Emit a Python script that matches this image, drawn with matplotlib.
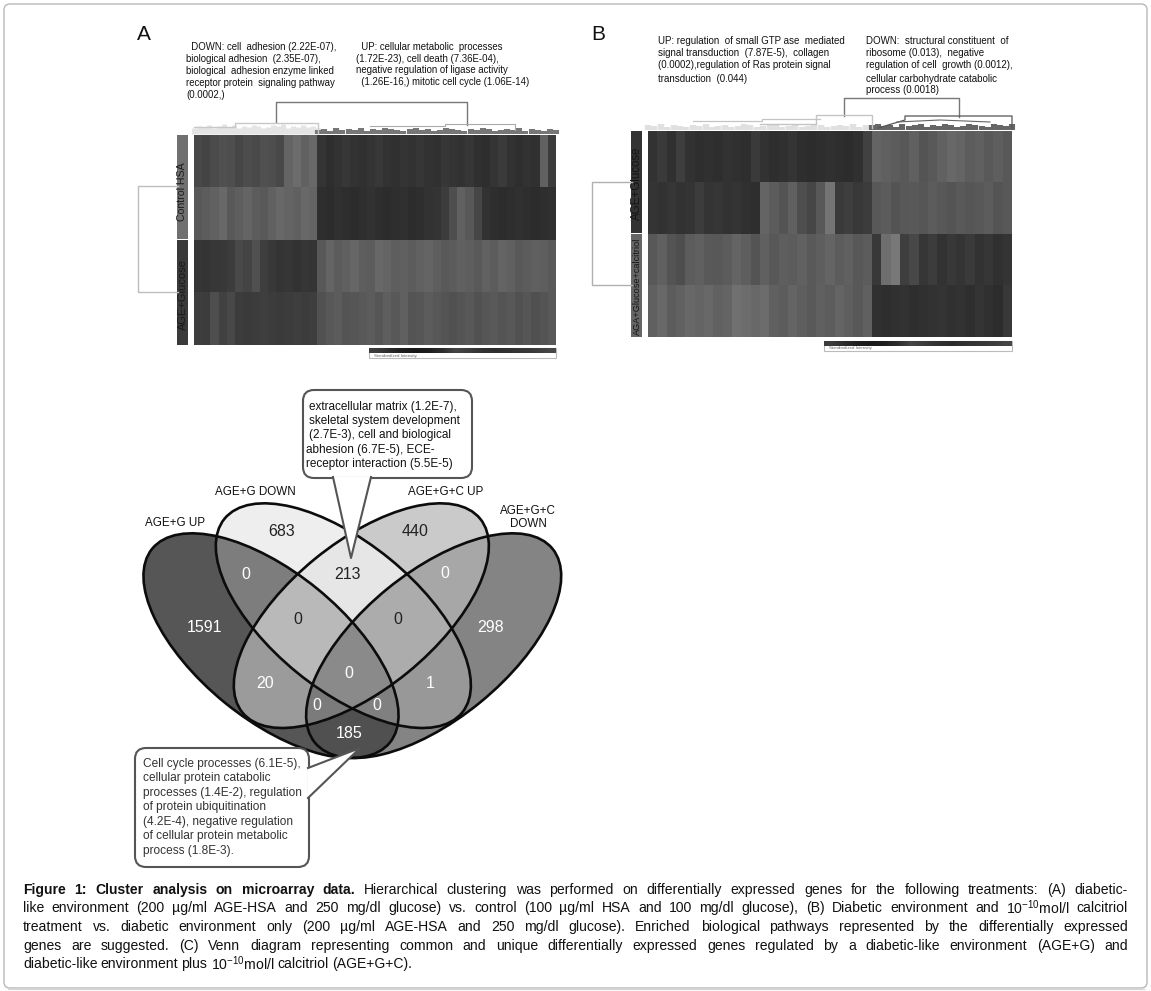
import numpy as np
import matplotlib
matplotlib.use('Agg')
import matplotlib.pyplot as plt
from matplotlib.patches import Ellipse, FancyBboxPatch, Polygon

plt.rcParams['font.family'] = ['Liberation Sans', 'DejaVu Sans']
plt.rcParams['mathtext.fontset'] = 'custom'
plt.rcParams['mathtext.rm'] = 'Liberation Sans'
plt.rcParams['mathtext.default'] = 'regular'

# heatmap A, grey level per column and row
a_row1 = [72, 68, 75, 80, 78, 70, 76, 74, 80, 78, 72, 100, 108, 98, 104,
          52, 46, 50, 55, 50, 48, 52, 56, 50, 48, 52, 50, 54, 50, 48, 55, 52, 50, 54, 48, 46, 52, 58, 50, 46, 50, 48, 98, 60]
a_row2 = [88, 92, 98, 104, 90, 94, 100, 92, 90, 98, 104, 100, 96, 104, 100,
          46, 44, 48, 46, 45, 47, 50, 46, 44, 46, 48, 45, 46, 50, 52, 60, 78, 98, 88, 70, 50, 46, 44, 46, 48, 46, 44, 46, 48]
a_row3 = [54, 52, 55, 56, 60, 74, 68, 80, 62, 56, 52, 54, 50, 54, 52,
          88, 100, 92, 96, 102, 94, 92, 104, 100, 94, 96, 92, 98, 100, 94, 90, 92, 96, 94, 90, 98, 92, 100, 96, 90, 92, 96, 94, 90]
a_row4 = [62, 60, 78, 66, 72, 60, 58, 60, 62, 60, 58, 60, 62, 60, 62,
          82, 88, 92, 84, 86, 90, 92, 86, 94, 88, 96, 84, 86, 92, 88, 84, 80, 84, 88, 82, 86, 90, 84, 88, 82, 86, 80, 84, 88]

# heatmap B
b_row1 = [50, 58, 48, 62, 50, 46, 48, 46, 50, 48, 46, 58, 50, 46, 48, 52, 46, 44, 46, 48, 46, 44, 48, 66,
          100, 96, 92, 88, 96, 84, 90, 98, 104, 100, 92, 96, 90, 94, 88]
b_row2 = [52, 50, 54, 50, 52, 60, 52, 54, 50, 52, 48, 46, 100, 92, 84, 96, 78, 70, 88, 116, 58, 62, 56, 60,
          88, 92, 84, 88, 90, 86, 92, 88, 84, 90, 86, 88, 92, 84, 88]
b_row3 = [88, 96, 84, 78, 92, 96, 90, 88, 92, 100, 94, 84, 96, 88, 94, 92, 98, 90, 94, 100, 92, 96, 88, 92,
          56, 110, 120, 62, 72, 54, 60, 50, 56, 52, 58, 50, 54, 48, 52]
b_row4 = [96, 104, 92, 98, 104, 100, 104, 98, 100, 112, 108, 104, 108, 96, 92, 100, 94, 90, 96, 92, 100, 94, 88, 96,
          48, 46, 48, 50, 46, 48, 50, 52, 48, 50, 46, 52, 48, 44, 56]

# dendrogram fringe heights
fringe_a_left = [6, 8, 7, 9, 6, 8, 10, 7, 9, 6, 8, 7, 9, 8, 6, 7, 9, 8, 10, 6, 8, 7, 9, 7, 8, 6]
fringe_a_right = [4, 5, 3, 6, 4, 5, 4, 6, 3, 5, 4, 6, 5, 4, 3, 5, 6, 4, 5, 3, 4, 6, 5, 4, 3, 5, 4, 6, 5, 3, 4, 5, 4, 6, 3, 5, 4, 3, 5, 4]
fringe_b_left = [5, 4, 6, 3, 5, 4, 3, 5, 4, 6, 3, 4, 5, 3, 4, 6, 5, 3, 4, 5, 6, 3, 4, 5, 3, 4, 6, 5, 3, 4, 5, 4, 6, 3, 5, 4]
fringe_b_right = [5, 6, 4, 5, 3, 6, 4, 5, 6, 3, 5, 4, 6, 5, 3, 4, 6, 5, 4, 3, 6, 5, 4, 6]

# venn
set_labels = ['AGE+G UP', 'AGE+G DOWN', 'AGE+G+C UP', 'AGE+G+C\nDOWN']
region_members = [(1,), (2,), (3,), (4,), (1, 2), (2, 3), (3, 4), (1, 3), (2, 4), (1, 4),
                  (1, 2, 3), (2, 3, 4), (1, 3, 4), (1, 2, 4), (1, 2, 3, 4)]
region_counts = ['1591', '683', '440', '298', '0', '213', '0', '20', '1', '185', '0', '0', '0', '0', '0']
region_greys = [86, 238, 202, 133, 125, 230, 168, 156, 152, 80, 186, 172, 124, 128, 138]
region_xy = [(254, 727), (484, 438), (884, 438), (1113, 727), (378, 568), (683, 568), (975, 565),
             (436, 897), (930, 895), (687, 1047), (534, 705), (832, 705), (590, 963), (770, 963), (687, 865)]

callout_top = ['extracellular matrix (1.2E-7),', 'skeletal system development', '(2.7E-3), cell and biological',
               'abhesion (6.7E-5), ECE-', 'receptor interaction (5.5E-5)']
callout_bottom = ['Cell cycle processes (6.1E-5),', 'cellular protein catabolic', 'processes (1.4E-2), regulation',
                  'of protein ubiquitination', '(4.2E-4), negative regulation', 'of cellular protein metabolic',
                  'process (1.8E-3).']

a_down = ['  DOWN: cell  adhesion (2.22E-07),', 'biological adhesion  (2.35E-07),', 'biological  adhesion enzyme linked',
          'receptor protein  signaling pathway', '(0.0002,)']
a_up = ['  UP: cellular metabolic  processes', '(1.72E-23), cell death (7.36E-04),',
        'negative regulation of ligase activity', '  (1.26E-16,) mitotic cell cycle (1.06E-14)']
b_up = ['UP: regulation  of small GTP ase  mediated', 'signal transduction  (7.87E-5),  collagen',
        '(0.0002),regulation of Ras protein signal', 'transduction  (0.044)']
b_down = ['DOWN:  structural constituent  of', 'ribosome (0.013),  negative', 'regulation of cell  growth (0.0012),',
          'cellular carbohydrate catabolic', 'process (0.0018)']

caption = [
    'Figure 1: Cluster analysis on microarray data. Hierarchical clustering was performed on differentially expressed genes for the following treatments: (A) diabetic-',
    'like environment (200 µg/ml AGE-HSA and 250 mg/dl glucose) vs. control (100 µg/ml HSA and 100 mg/dl glucose), (B) Diabetic environment and 10$^{-10}$mol/l calcitriol',
    'treatment vs. diabetic environment only (200 µg/ml AGE-HSA and 250 mg/dl glucose). Enriched biological pathways represented by the differentially expressed',
    'genes are suggested. (C) Venn diagram representing common and unique differentially expressed genes regulated by a diabetic-like environment (AGE+G) and',
    'diabetic-like environment plus 10$^{-10}$mol/l calcitriol (AGE+G+C).',
]
n_bold = 7


fig = plt.figure(figsize=(11.51, 9.91), dpi=100)
ax = fig.add_axes([0, 0, 1, 1])
ax.set_xlim(0, 1151)
ax.set_ylim(991, 0)
ax.axis('off')

# page frame
ax.add_patch(FancyBboxPatch((4, 4), 1143, 984, boxstyle='round,pad=0,rounding_size=6',
                            fc='white', ec='#b8b8b8', lw=1.0, zorder=0))
ax.plot([8, 1144], [989, 989], color='#d8d8d8', lw=1.0, zorder=0)


def lines_of_text(x, y, lines, size, step, color='#111111'):
    for i, s in enumerate(lines):
        ax.text(x, y + i * step, s, fontsize=size, color=color, va='center', ha='left')


def heatmap(rows, x0, x1, y0, y1):
    ax.imshow(np.array(rows), cmap='gray', vmin=0, vmax=255, extent=(x0, x1, y1, y0),
              aspect='auto', interpolation='nearest', zorder=2)


def fringe(heights, x0, x1, base, color):
    xs = np.linspace(x0, x1, len(heights))
    step = xs[1] - xs[0]
    ax.vlines(xs, [base - h for h in heights], base, color=color, lw=step * 0.72, zorder=2)


def scale_bar(x0, x1, y0):
    ax.add_patch(plt.Rectangle((x0, y0), x1 - x0, 10, fc='white', ec='#bbbbbb', lw=0.8, zorder=2))
    grad = np.array([[60, 45, 30, 25, 30, 45, 70, 60, 50, 45, 50, 55, 60, 70]])
    ax.imshow(grad, cmap='gray', vmin=0, vmax=255, extent=(x0, x1, y0 + 5, y0), aspect='auto',
              interpolation='bilinear', zorder=3)
    ax.text(x0 + 5, y0 + 7.5, 'Standardized Intensity', fontsize=3.2, color='#666666', va='center', zorder=3)


# panel A
ax.text(137, 35, 'A', fontsize=15, va='center', color='#111111')
lines_of_text(186, 47.5, a_down, 6.95, 11.9)
lines_of_text(356, 47, a_up, 6.9, 11.6)
heatmap([a_row1, a_row2, a_row3, a_row4], 194, 556, 135, 345)
ax.add_patch(plt.Rectangle((177, 135), 11, 104, fc='#707070', ec='none', zorder=2))
ax.add_patch(plt.Rectangle((177, 240), 11, 105, fc='#3a3a3a', ec='none', zorder=2))
ax.text(182.5, 192, 'Control HSA', rotation=90, fontsize=7.6, color='#1a1a1a', ha='center', va='center', zorder=3)
ax.text(182.5, 295, 'AGE+Glucose', rotation=90, fontsize=8, color='#1a1a1a', ha='center', va='center', zorder=3)
fringe(fringe_a_left, 194, 318, 134, '#e4e4e4')
fringe(fringe_a_right, 318, 556, 134, '#777777')
ax.plot([276, 276, 467, 467], [122, 102, 102, 125], color='#777777', lw=1, zorder=3)
ax.plot([194, 235, 235, 318, 318], [127, 127, 123, 123, 133], color='#c8c8c8', lw=1, zorder=3)
ax.plot([370, 445, 445, 515, 515], [126, 126, 124, 124, 130], color='#aaaaaa', lw=0.8, zorder=3)
ax.plot([178, 138, 138, 178], [186, 186, 292, 292], color='#bdbdbd', lw=1, zorder=3)
scale_bar(369, 556, 348)

# panel B
ax.text(591, 34, 'B', fontsize=15, va='center', color='#111111')
lines_of_text(658, 41.5, b_up[:3], 7.0, 11.5)
lines_of_text(658, 78.5, b_up[3:], 7.0, 11.5)
lines_of_text(866, 41.5, b_down[:3], 7.0, 11.5)
lines_of_text(866, 78.5, b_down[3:], 7.0, 11.9)
heatmap([b_row1, b_row2, b_row3, b_row4], 648, 1012, 131, 337)
ax.add_patch(plt.Rectangle((631, 131), 11, 102, fc='#333333', ec='none', zorder=2))
ax.add_patch(plt.Rectangle((631, 234), 11, 103, fc='#666666', ec='none', zorder=2))
ax.text(637, 183, 'AGE+Glucose', rotation=90, fontsize=8.3, color='#141414', ha='center', va='center', zorder=3)
ax.text(637, 286, 'AGA+Glucose+calcitriol', rotation=90, fontsize=6.6, color='#141414', ha='center', va='center', zorder=3)
fringe(fringe_b_left, 648, 872, 130, '#e0e0e0')
fringe(fringe_b_right, 872, 1012, 130, '#666666')
ax.plot([844, 844, 959, 959], [116, 98, 98, 117], color='#777777', lw=1, zorder=3)
ax.plot([760, 816, 816, 872, 872], [124, 124, 115, 115, 128], color='#c4c4c4', lw=1, zorder=3)
ax.plot([693, 762, 762, 820], [121, 121, 119, 119], color='#c4c4c4', lw=0.9, zorder=3)
ax.plot([878, 905, 905, 1012, 1012], [128, 120, 116, 116, 128], color='#555555', lw=0.9, zorder=3)
ax.plot([897, 940, 990], [122, 120, 122], color='#666666', lw=0.8, zorder=3)
ax.plot([632, 592, 592, 632], [182, 182, 285, 285], color='#b0b0b0', lw=1, zorder=3)
scale_bar(824, 1012, 341)


# venn, zoom coordinates of the crop mapped back to the page
def vx(x):
    return np.asarray(x) / 3 + 120


def vy(y):
    return np.asarray(y) / 3 + 385


ell_a, ell_b, ell_ang = 460 / 3, 220 / 3, 39.2
ell_centres = [(453, 782, ell_ang), (670, 692, ell_ang), (724, 692, -ell_ang), (941, 782, -ell_ang)]

xs = np.arange(130, 575, 0.25)
ys = np.arange(495, 770, 0.25)
gx, gy = np.meshgrid(xs, ys)
inside = []
for cx, cy, ang in ell_centres:
    t = np.radians(ang)
    dx, dy = gx - vx(cx), gy - vy(cy)
    u = dx * np.cos(t) + dy * np.sin(t)
    v = -dx * np.sin(t) + dy * np.cos(t)
    inside.append((u / ell_a) ** 2 + (v / ell_b) ** 2 <= 1)
code = sum(m * 2 ** i for i, m in enumerate(inside))
lut = np.full(16, 255.0)
for members, g in zip(region_members, region_greys):
    lut[sum(2 ** (m - 1) for m in members)] = g
ax.imshow(lut[code], cmap='gray', vmin=0, vmax=255, extent=(xs[0], xs[-1], ys[-1], ys[0]),
          aspect='auto', interpolation='bilinear', zorder=1)
for cx, cy, ang in ell_centres:
    ax.add_patch(Ellipse((vx(cx), vy(cy)), 2 * ell_a, 2 * ell_b, angle=ang, fc='none', ec='#0c0c0c', lw=1.9, zorder=3))

for (x, y), s, g in zip(region_xy, region_counts, region_greys):
    ax.text(vx(x), vy(y), s, fontsize=11.5, ha='center', va='center', zorder=4,
            color='white' if g < 170 else '#222222')

ax.text(vx(165), vy(415), set_labels[0], fontsize=8.4, ha='center', va='center', color='#111111')
ax.text(vx(405), vy(322), set_labels[1], fontsize=8.4, ha='center', va='center', color='#111111')
ax.text(vx(977), vy(322), set_labels[2], fontsize=8.4, ha='center', va='center', color='#111111')
ax.text(vx(1225), vy(398), set_labels[3], fontsize=8.4, ha='center', va='center', color='#111111', linespacing=1.1)


def callout(x0, y0, x1, y1, pointer, edge_xy):
    ax.add_patch(FancyBboxPatch((x0, y0), x1 - x0, y1 - y0, boxstyle='round,pad=0,rounding_size=11',
                                fc='white', ec='#555555', lw=1.5, zorder=5))
    ax.add_patch(Polygon([edge_xy[0], pointer, edge_xy[1]], closed=True, fc='white', ec='none', zorder=5))
    ax.plot([edge_xy[0][0], pointer[0], edge_xy[1][0]], [edge_xy[0][1], pointer[1], edge_xy[1][1]],
            color='#555555', lw=1.5, zorder=6)


callout(303, 390, 472, 478, (351, 558), [(333, 477), (371, 477)])
callout(135, 748, 309, 867, (360, 748), [(308, 768), (308, 798)])
for i, s in enumerate(callout_top):
    ax.text(309 if i not in (3, 4) else 306, 407 + i * 14.2, s, fontsize=8.5, color='#111111', va='center', zorder=7)
for i, s in enumerate(callout_bottom):
    ax.text(143, 763.5 + i * 14.6, s, fontsize=8.6, color='#333333', va='center', zorder=7)

# caption, justified word by word
fig.canvas.draw()
rend = fig.canvas.get_renderer()
cap_x0, cap_x1 = 23, 1128
cap_y = [890, 908, 927, 946, 964]
word_no = 0
for li, line in enumerate(caption):
    words = line.split(' ')
    items = []
    for w in words:
        weight = 'bold' if word_no < n_bold else 'normal'
        items.append(ax.text(0, cap_y[li], w, fontsize=10.1, fontweight=weight, va='center', color='#111111', zorder=7))
        word_no += 1
    widths = [t.get_window_extent(rend).width for t in items]
    if li < len(caption) - 1:
        gap = (cap_x1 - cap_x0 - sum(widths)) / (len(items) - 1)
    else:
        gap = 3.2
    x = cap_x0
    for t, w in zip(items, widths):
        t.set_x(x)
        x += w + gap

fig.savefig('out.png', dpi=100)
